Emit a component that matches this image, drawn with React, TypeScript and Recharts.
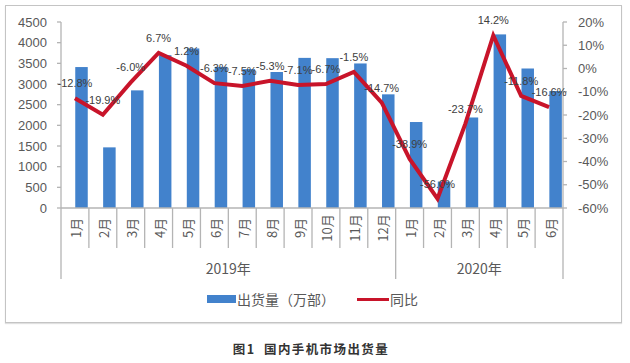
import React from 'react';
import { ComposedChart, Bar, Line, XAxis, YAxis, LabelList } from 'recharts';

const months = ['1月', '2月', '3月', '4月', '5月', '6月', '7月', '8月', '9月', '10月', '11月', '12月', '1月', '2月', '3月', '4月', '5月', '6月'];
const shipments = [3410, 1467, 2846, 3697, 3860, 3415, 3360, 3290, 3632, 3625, 3497, 2750, 2080, 640, 2190, 4200, 3375, 2830];
const yoy = [-12.8, -19.9, -6.0, 6.7, 1.2, -6.3, -7.5, -5.3, -7.1, -6.7, -1.5, -14.7, -38.9, -56.0, -23.7, 14.2, -11.8, -16.6];
const years = ['2019年', '2020年'];
const yearMonthCounts = [12, 6];
const leftTicks = [0, 500, 1000, 1500, 2000, 2500, 3000, 3500, 4000, 4500];
const rightTicks = [-60, -50, -40, -30, -20, -10, 0, 10, 20];
const seriesNames = ['出货量（万部）', '同比'];
const caption = '图1  国内手机市场出货量';

const data = months.map((m, i) => ({ key: `${i}`, month: m, shipments: shipments[i], yoy: yoy[i] }));

const W = 630;
const H = 363;
const LEFT_W = 61;
const RIGHT_W = 67;
const TOP = 22;
const X_AXIS_H = 155;
const PLOT_BOTTOM = H - X_AXIS_H;
const BAND = (W - LEFT_W - RIGHT_W) / months.length;
const BAR_BLUE = '#4282cc';
const LINE_RED = '#c8142a';
const TEXT = '#595959';
const AXIS = '#b4b4b4';
const FONT = '"Liberation Sans", Arial, "Noto Sans CJK SC", sans-serif';
const CJK = '"Noto Sans CJK SC", "Liberation Sans", sans-serif';

// year boundaries (index of first month of each year)
const yearStarts: number[] = [];
{
  let acc = 0;
  yearMonthCounts.forEach((c) => {
    yearStarts.push(acc);
    acc += c;
  });
}

const MonthTick = (props: any) => {
  const { x, index, payload } = props;
  const i = index ?? payload?.index ?? 0;
  const x0 = x - BAND / 2;
  const isYearStart = yearStarts.includes(i);
  const els: React.ReactNode[] = [];
  els.push(
    <line key="l" x1={x0} x2={x0} y1={PLOT_BOTTOM} y2={isYearStart ? PLOT_BOTTOM + 71 : PLOT_BOTTOM + 40} stroke={AXIS} strokeWidth={1.3} />
  );
  if (i === months.length - 1) {
    els.push(
      <line key="r" x1={x + BAND / 2} x2={x + BAND / 2} y1={PLOT_BOTTOM} y2={PLOT_BOTTOM + 71} stroke={AXIS} strokeWidth={1.3} />
    );
  }
  els.push(
    <text
      key="t"
      x={x + 1}
      y={PLOT_BOTTOM + 20}
      transform={`rotate(-90 ${x + 1} ${PLOT_BOTTOM + 20})`}
      textAnchor="middle"
      dominantBaseline="central"
      fontSize={13}
      fill={TEXT}
      fontFamily={CJK}
    >
      {payload.value}
    </text>
  );
  yearStarts.forEach((s, yi) => {
    const mid = s + yearMonthCounts[yi] / 2;
    // draw year label on the tick whose right boundary (or center) is the midpoint
    if (Number.isInteger(mid) ? i === mid - 1 : i === Math.floor(mid)) {
      const cx = Number.isInteger(mid) ? x + BAND / 2 : x;
      els.push(
        <text key={`y${yi}`} x={cx} y={PLOT_BOTTOM + 60} textAnchor="middle" dominantBaseline="central" fontSize={14} fill={TEXT} fontFamily={CJK}>
          {years[yi]}
        </text>
      );
    }
  });
  return <g>{els}</g>;
};

const ShiftedBar = (props: any) => {
  const { x, y, width, height, fill } = props;
  if (height == null || height <= 0) return null;
  return <rect x={x + width / 2} y={y} width={width} height={height} fill={fill} />;
};

export default function App() {
  return (
    <div style={{ position: 'absolute', left: 0, top: 0, width: W, height: H, background: '#fff', overflow: 'hidden' }}>
      <div
        style={{
          position: 'absolute',
          left: 5,
          top: 5,
          width: 615,
          height: 316,
          border: '1.5px solid #c4c4c4',
          boxShadow: '0 1px 1px rgba(0,0,0,0.12)',
        }}
      />
      <div style={{ position: 'absolute', left: 0, top: 0 }}>
        <ComposedChart width={W} height={H} data={data} margin={{ top: TOP, right: 0, bottom: 0, left: 0 }}>
          <XAxis
            dataKey="month"
            xAxisId="x"
            interval={0}
            height={X_AXIS_H}
            tickLine={false}
            axisLine={{ stroke: AXIS, strokeWidth: 1.3 }}
            tick={<MonthTick />}
          />
          <YAxis
            yAxisId="l"
            orientation="left"
            width={LEFT_W}
            domain={[0, 4500]}
            ticks={leftTicks}
            interval={0}
            tickSize={4}
            tickMargin={10}
            axisLine={{ stroke: AXIS, strokeWidth: 1.3 }}
            tickLine={{ stroke: AXIS, strokeWidth: 1.3 }}
            tick={{ fontSize: 13, fill: TEXT, fontFamily: FONT }}
          />
          <YAxis
            yAxisId="r"
            orientation="right"
            width={RIGHT_W}
            domain={[-60, 20]}
            ticks={rightTicks}
            interval={0}
            tickSize={4}
            tickMargin={11}
            tickFormatter={(v: number) => `${v}%`}
            axisLine={{ stroke: AXIS, strokeWidth: 1.3 }}
            tickLine={{ stroke: AXIS, strokeWidth: 1.3 }}
            tick={{ fontSize: 13, fill: TEXT, fontFamily: FONT, textAnchor: 'start' }}
          />
          <Bar
            xAxisId="x"
            yAxisId="l"
            dataKey="shipments"
            name={seriesNames[0]}
            fill={BAR_BLUE}
            barSize={12.5}
            shape={<ShiftedBar />}
            isAnimationActive={false}
          />
          <Line
            xAxisId="x"
            yAxisId="r"
            dataKey="yoy"
            name={seriesNames[1]}
            type="linear"
            stroke={LINE_RED}
            strokeWidth={4}
            dot={false}
            activeDot={false}
            isAnimationActive={false}
          >
            <LabelList
              dataKey="yoy"
              position="top"
              offset={11}
              formatter={(v: number) => `${v.toFixed(1)}%`}
              style={{ fontSize: 11, fill: '#404040', fontFamily: FONT }}
            />
          </Line>
        </ComposedChart>
      </div>
      {/* legend */}
      <div style={{ position: 'absolute', left: 207, top: 288, height: 22, display: 'flex', alignItems: 'center', fontFamily: CJK, fontSize: 14, color: TEXT }}>
        <span style={{ display: 'inline-block', width: 29, height: 8, background: BAR_BLUE }} />
        <span style={{ marginLeft: 1 }}>{seriesNames[0]}</span>
        <span style={{ display: 'inline-block', width: 32, height: 3, background: LINE_RED, marginLeft: 22 }} />
        <span style={{ marginLeft: 1 }}>{seriesNames[1]}</span>
      </div>
      {/* caption */}
      <div
        style={{
          position: 'absolute',
          left: 0,
          width: W - 8,
          top: 339,
          textAlign: 'center',
          fontFamily: CJK,
          fontSize: 12.5,
          fontWeight: 700,
          letterSpacing: 1.4,
          color: '#333',
          whiteSpace: 'pre',
        }}
      >
        {caption}
      </div>
    </div>
  );
}
